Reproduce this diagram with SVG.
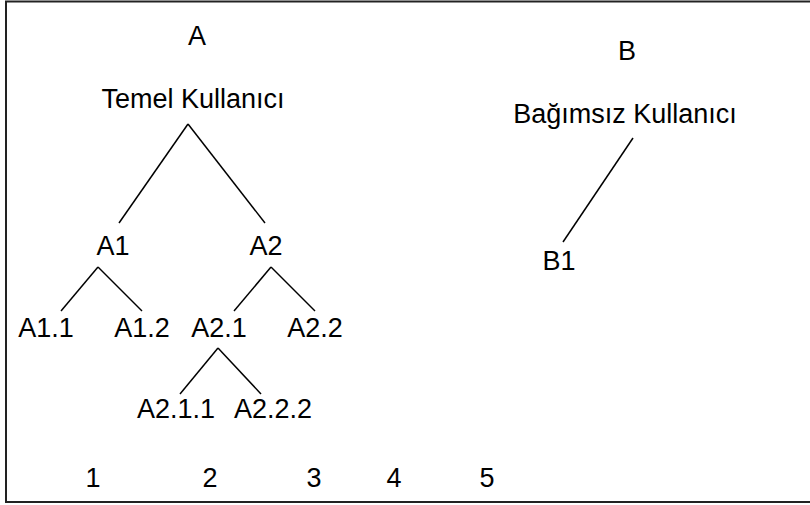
<svg xmlns="http://www.w3.org/2000/svg" width="810" height="505" viewBox="0 0 810 505">
<style>
text{font-family:"Liberation Sans",Arial,sans-serif;font-size:27px;fill:#000;text-anchor:middle}
.e line{stroke:#000;stroke-width:1.5;fill:none}
</style>
<rect x="0" y="0" width="810" height="505" fill="#fff"/>
<rect x="6" y="1.5" width="820" height="500.5" fill="none" stroke="#222" stroke-width="2"/>
<g class="e" id="connectors">
<line x1="188" y1="124" x2="119" y2="223"/>
<line x1="188" y1="124" x2="265" y2="223"/>
<line x1="98" y1="267" x2="61" y2="311"/>
<line x1="98" y1="267" x2="142" y2="311"/>
<line x1="271" y1="267" x2="234" y2="311"/>
<line x1="271" y1="267" x2="315" y2="311"/>
<line x1="218" y1="348" x2="180" y2="394"/>
<line x1="218" y1="348" x2="261" y2="394"/>
<line x1="633" y1="138" x2="563" y2="242"/>
</g>
<g id="A"><text x="197" y="45">A</text></g>
<g id="temel"><text x="193" y="108">Temel Kullanıcı</text></g>
<g id="B"><text x="627" y="60">B</text></g>
<g id="bagimsiz"><text x="625" y="123">Bağımsız Kullanıcı</text></g>
<g id="B1"><text x="559" y="270">B1</text></g>
<g id="A1"><text x="113" y="255">A1</text></g>
<g id="A2"><text x="266" y="255">A2</text></g>
<g id="A1.1"><text x="46" y="337">A1.1</text></g>
<g id="A1.2"><text x="142" y="337">A1.2</text></g>
<g id="A2.1"><text x="219" y="337">A2.1</text></g>
<g id="A2.2"><text x="315" y="337">A2.2</text></g>
<g id="A2.1.1"><text x="176" y="418">A2.1.1</text></g>
<g id="A2.2.2"><text x="273" y="418">A2.2.2</text></g>
<g id="levels">
<text x="93" y="487">1</text>
<text x="210" y="487">2</text>
<text x="314" y="487">3</text>
<text x="394" y="487">4</text>
<text x="487" y="487">5</text>
</g>
</svg>
